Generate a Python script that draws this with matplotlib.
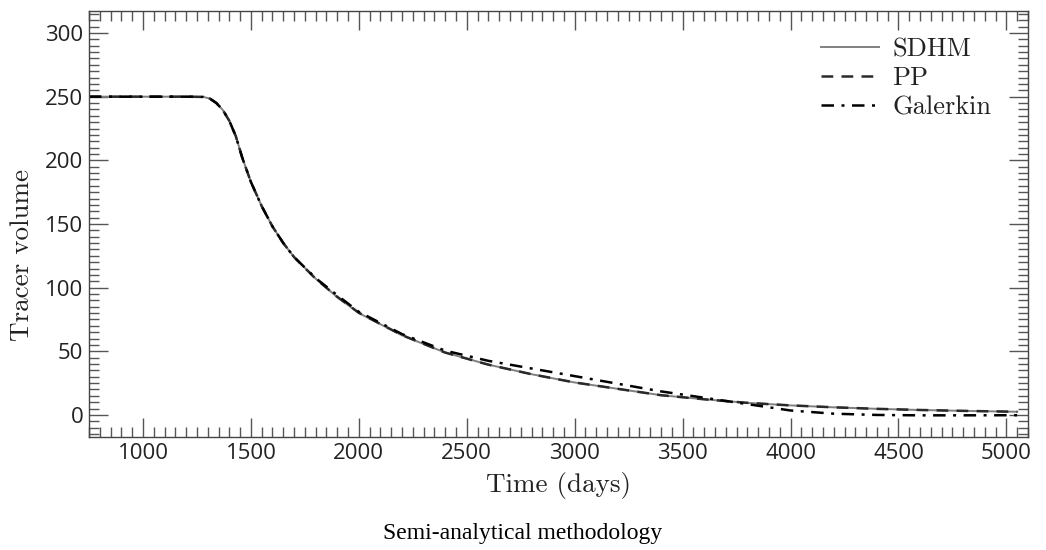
import matplotlib
matplotlib.use("Agg")
import matplotlib.pyplot as plt
from matplotlib.ticker import MultipleLocator

# ---- data ----
time_days = [750, 1000, 1200, 1280, 1310, 1340, 1370, 1400, 1430, 1460, 1500,
             1550, 1600, 1650, 1700, 1800, 1900, 2000, 2200, 2400, 2600, 2800,
             3000, 3200, 3400, 3600, 3800, 4000, 4200, 4400, 4600, 4800, 5050]

sdhm = [250, 250, 250, 249.8, 248.5, 245, 239.5, 231, 219, 202, 183,
        164, 148, 135, 124, 107, 92.5, 80, 62.5, 49, 39.5, 32,
        25.5, 20.5, 15.5, 12.3, 9.5, 7.5, 6.0, 4.8, 3.9, 3.2, 2.5]

pp = [250, 250, 250, 249.8, 248.5, 245, 239.5, 231, 219, 202, 183,
      164, 148, 135, 124, 107, 92.8, 80.3, 62.7, 49, 39.5, 32,
      25.5, 20.5, 15.5, 12.3, 9.5, 7.5, 6.0, 4.8, 3.9, 3.2, 2.5]

galerkin = [250, 250, 250, 249.8, 248.5, 245, 239.5, 231, 219, 202, 183,
            164, 148, 135, 124, 107.5, 94, 81, 63.5, 50.5, 42.5, 36.5,
            30.5, 24.5, 18.5, 13.5, 8.5, 3.5, 1.0, 0.0, -0.3, -0.3, -0.2]

series_labels = ["SDHM", "PP", "Galerkin"]
x_ticks = [1000, 1500, 2000, 2500, 3000, 3500, 4000, 4500, 5000]
y_ticks = [0, 50, 100, 150, 200, 250, 300]

fig = plt.figure(figsize=(10.46, 5.5), dpi=100)
ax = fig.add_axes([0.0851, 0.2055, 0.8977, 0.7745])

ax.plot(time_days, sdhm, color="#808080", lw=1.4, ls="-", label=series_labels[0])
ax.plot(time_days, pp, color="#2a2a2a", lw=1.8, ls=(0, (4.7, 3.3)), label=series_labels[1])
ax.plot(time_days, galerkin, color="black", lw=1.8, ls=(0, (5.0, 3.0, 1.2, 3.0)),
        label=series_labels[2])

ax.set_xlim(750, 5100)
ax.set_ylim(-17.3, 317.3)
ax.set_xticks(x_ticks)
ax.set_yticks(y_ticks)
ax.xaxis.set_minor_locator(MultipleLocator(50))
ax.yaxis.set_minor_locator(MultipleLocator(5))

ax.tick_params(which="both", direction="in", top=True, right=True,
               color="#555555", width=1.0, labelsize=16, pad=4,
               labelcolor="#222222")
ax.tick_params(which="major", length=14)
ax.tick_params(which="minor", length=7)
for lab in ax.get_xticklabels() + ax.get_yticklabels():
    lab.set_fontfamily("Open Sans")

for sp in ax.spines.values():
    sp.set_color("#444444")
    sp.set_linewidth(1.0)

ax.set_xlabel("Time (days)", fontfamily="cmr10", fontsize=19.5, color="#222222", labelpad=6)
ax.set_ylabel("Tracer volume", fontfamily="cmr10", fontsize=19.5, color="#222222")
ax.yaxis.set_label_coords(-0.059, 0.427)

leg = ax.legend(loc="upper right", bbox_to_anchor=(0.9723, 0.9624), borderaxespad=0.0,
                frameon=False, prop={"family": "cmr10", "size": 19},
                handlelength=2.2, handletextpad=0.5, labelspacing=0.2)
for t in leg.get_texts():
    t.set_color("#222222")

fig.text(0.5, 1 - 533 / 550, "Semi-analytical methodology",
         fontfamily="Liberation Serif", fontsize=17, ha="center", va="center",
         color="black")

fig.savefig("out.png", dpi=100)
